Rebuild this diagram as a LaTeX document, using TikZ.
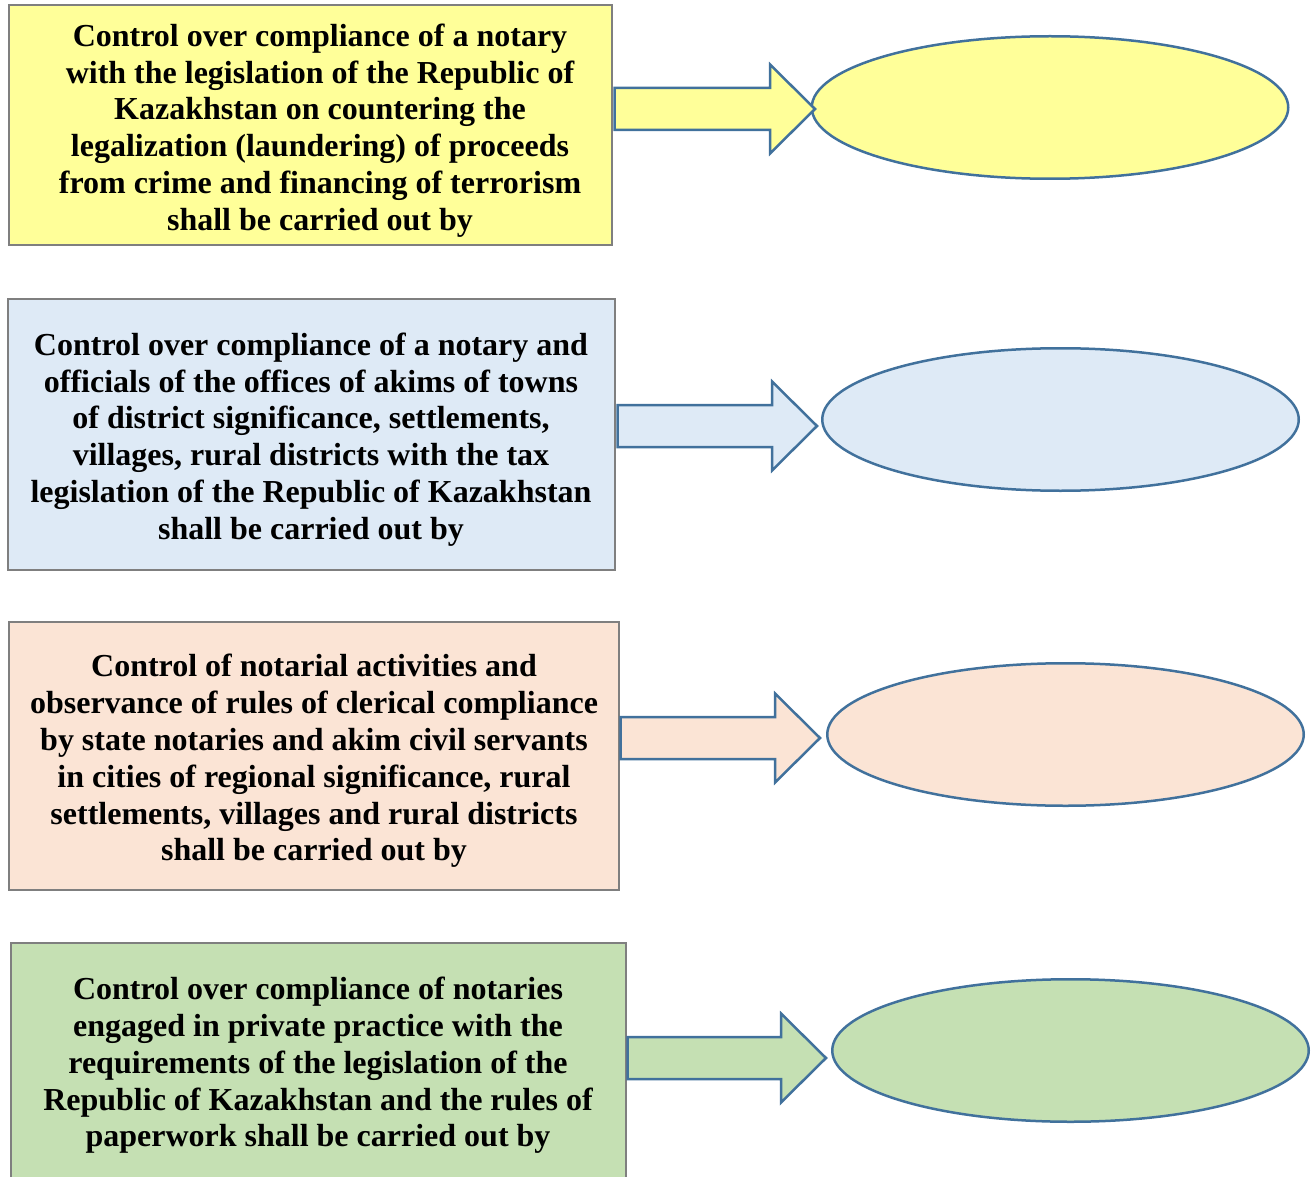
\documentclass[tikz,border=0pt]{standalone}
\usepackage{fontspec}
\setmainfont{Liberation Serif}
\usetikzlibrary{shapes.geometric,calc}

\definecolor{fillyellow}{HTML}{FFFF99}
\definecolor{fillblue}{HTML}{DEEAF6}
\definecolor{fillpeach}{HTML}{FBE4D5}
\definecolor{fillgreen}{HTML}{C5E0B3}
\definecolor{boxline}{HTML}{7F7F7F}
\definecolor{shapeline}{HTML}{41719C}

\tikzset{
  infobox/.style={draw=boxline, line width=2pt, rectangle, inner sep=0pt},
  infotext/.style={align=center, inner sep=0pt,
    font=\bfseries\fontsize{32}{36.8}\selectfont},
  target/.style={draw=shapeline, line width=2.5pt, ellipse, inner sep=0pt,
    minimum width=476.5pt, minimum height=142.5pt},
  blockarrow/.style={draw=shapeline, line width=2.5pt, line join=miter},
}

% block arrow: #1 = start, #2 = tip, #3 = fill colour
\newcommand{\blockarrowpath}[3]{%
  \draw[blockarrow, fill=#3]
    ($(#1)+(0,-21)$) -- ($(#2)+(-45,-21)$) -- ($(#2)+(-45,-44.5)$) --
    (#2) --
    ($(#2)+(-45,44.5)$) -- ($(#2)+(-45,21)$) -- ($(#1)+(0,21)$) -- cycle;}

\begin{document}
\begin{tikzpicture}[x=1pt, y=-1pt]
  \useasboundingbox (0,0) rectangle (1315,1177);
  \clip (0,0) rectangle (1315,1177);

  % ---- row 1 ----
  \node[infobox, fill=fillyellow, minimum width=603pt, minimum height=240pt] (b1) at (310.5,125) {};
  \node[infotext] (t1) at (320,130.5) {Control over compliance of a notary\\with the legislation of the Republic of\\Kazakhstan on countering the\\legalization (laundering) of proceeds\\from crime and financing of terrorism\\shall be carried out by};
  \node[target, fill=fillyellow] (e1) at (1050,107.5) {};
  \coordinate (a1s) at (614.5,109);
  \coordinate (a1t) at (815,109);
  \blockarrowpath{a1s}{a1t}{fillyellow}

  % ---- row 2 ----
  \node[infobox, fill=fillblue, minimum width=607pt, minimum height=271pt] (b2) at (311.5,434.5) {};
  \node[infotext] (t2) at (311,439.5) {Control over compliance of a notary and\\officials of the offices of akims of towns\\of district significance, settlements,\\villages, rural districts with the tax\\legislation of the Republic of Kazakhstan\\shall be carried out by};
  \node[target, fill=fillblue] (e2) at (1060.5,419.5) {};
  \coordinate (a2s) at (617.5,426);
  \coordinate (a2t) at (817,426);
  \blockarrowpath{a2s}{a2t}{fillblue}

  % ---- row 3 ----
  \node[infobox, fill=fillpeach, minimum width=610pt, minimum height=268pt] (b3) at (314,756) {};
  \node[infotext] (t3) at (314,761) {Control of notarial activities and\\observance of rules of clerical compliance\\by state notaries and akim civil servants\\in cities of regional significance, rural\\settlements, villages and rural districts\\shall be carried out by};
  \node[target, fill=fillpeach] (e3) at (1065.5,734.5) {};
  \coordinate (a3s) at (620.5,738);
  \coordinate (a3t) at (820,738);
  \blockarrowpath{a3s}{a3t}{fillpeach}

  % ---- row 4 ----
  \node[infobox, fill=fillgreen, minimum width=615pt, minimum height=241pt] (b4) at (318.5,1063.5) {};
  \node[infotext] (t4) at (318,1065.5) {Control over compliance of notaries\\engaged in private practice with the\\requirements of the legislation of the\\Republic of Kazakhstan and the rules of\\paperwork shall be carried out by};
  \node[target, fill=fillgreen] (e4) at (1070.5,1050.5) {};
  \coordinate (a4s) at (627.5,1058);
  \coordinate (a4t) at (826,1058);
  \blockarrowpath{a4s}{a4t}{fillgreen}
\end{tikzpicture}
\end{document}
